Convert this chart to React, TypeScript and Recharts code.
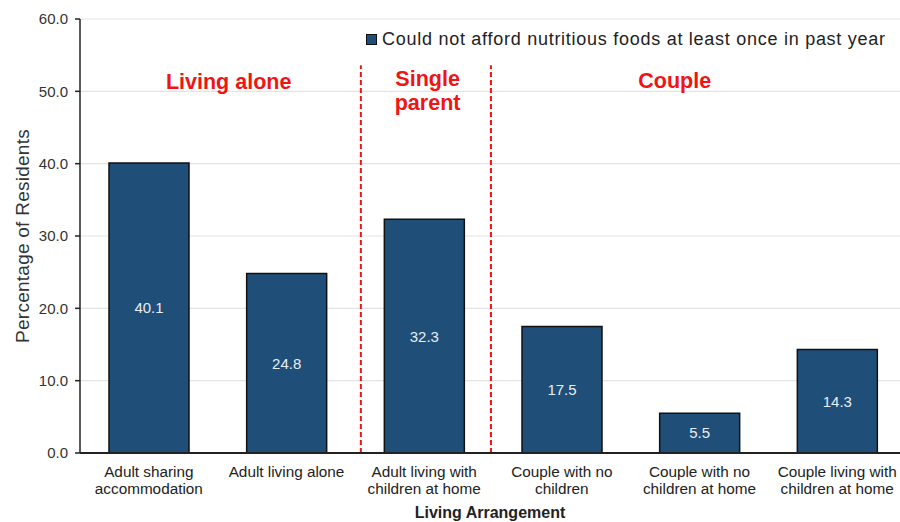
import React from "react";
import {
  BarChart,
  Bar,
  XAxis,
  YAxis,
  CartesianGrid,
  Legend,
  LabelList,
  ReferenceLine,
  ReferenceDot,
  Label,
} from "recharts";

const FONT = "'Liberation Sans', Arial, Helvetica, sans-serif";

const categories = [
  "Adult sharing\naccommodation",
  "Adult living alone",
  "Adult living with\nchildren at home",
  "Couple with no\nchildren",
  "Couple with no\nchildren at home",
  "Couple living with\nchildren at home",
];
const values = [40.1, 24.8, 32.3, 17.5, 5.5, 14.3];
const yTicks = [0, 10, 20, 30, 40, 50, 60];
const seriesName = "Could not afford nutritious foods at least once in past year";

// group dividers (in category units along the axis) and the top of each divider
const dividerX = [2.04, 2.985];
const dividerTop = 53.6;

// group headings: position along categories, baseline value
const groupNames = [["Living alone"], ["Single", "parent"], ["Couple"]];
const groupX = [1.08, 2.525, 4.32];
const groupY = [50.3, 50.8, 50.4];

const data = categories.map((c, i) => ({ name: c, value: values[i], idx: i + 0.5 }));

const CatTick = (props: any) => {
  const { x, y, payload } = props;
  const lines = String(payload.value).split("\n");
  return (
    <text x={x} y={y + 24} textAnchor="middle" fontSize={15.3} fill="#222" fontFamily={FONT}>
      {lines.map((l, i) => (
        <tspan key={i} x={x} dy={i === 0 ? 0 : 17}>
          {l}
        </tspan>
      ))}
    </text>
  );
};

const GroupLabel = (lines: string[]) => (props: any) => {
  const vb = props.viewBox || {};
  const cx = (vb.x || 0) + (vb.width || 0) / 2;
  const cy = (vb.y || 0) + (vb.height || 0) / 2;
  return (
    <text
      x={cx}
      y={cy}
      textAnchor="middle"
      fontSize={21.5}
      fontWeight="bold"
      fill="#f01414"
      fontFamily={FONT}
    >
      {lines.map((l, i) => (
        <tspan key={i} x={cx} dy={i === 0 ? 0 : 24}>
          {l}
        </tspan>
      ))}
    </text>
  );
};

const LegendContent = () => (
  <div
    style={{
      display: "flex",
      alignItems: "center",
      fontFamily: FONT,
      fontSize: 18,
      letterSpacing: 0.73,
      color: "#222",
      whiteSpace: "nowrap",
    }}
  >
    <span
      style={{
        display: "inline-block",
        width: 9,
        height: 9,
        background: "#1F4E79",
        border: "1px solid #111",
        marginRight: 5,
      }}
    />
    {seriesName}
  </div>
);

export default function App() {
  return (
    <div style={{ position: "absolute", left: 0, top: 0, width: 900, height: 522, overflow: "hidden" }}>
      <BarChart
        width={910}
        height={522}
        data={data}
        margin={{ top: 19, right: 4, bottom: 0, left: 0 }}
        style={{ fontFamily: FONT }}
      >
        <CartesianGrid vertical={false} stroke="#e3e3e3" strokeWidth={1.2} />
        <XAxis
          dataKey="name"
          interval={0}
          height={69}
          tick={<CatTick />}
          tickLine={false}
          tickSize={0}
          tickMargin={0}
          axisLine={{ stroke: "#222", strokeWidth: 2 }}
        >
          <Label
            content={(p: any) => {
              const vb = p.viewBox;
              return (
                <text
                  x={vb.x + vb.width / 2 - 3}
                  y={vb.y + 65}
                  textAnchor="middle"
                  fontSize={16}
                  fontWeight="bold"
                  fill="#222"
                  fontFamily={FONT}
                >
                  Living Arrangement
                </text>
              );
            }}
          />
        </XAxis>
        <XAxis xAxisId="num" type="number" dataKey="idx" domain={[0, 6]} hide />
        <YAxis
          width={80}
          domain={[0, 60]}
          ticks={yTicks}
          tickFormatter={(v: number) => v.toFixed(1)}
          tick={{ fontSize: 15, fill: "#333", fontFamily: FONT }}
          tickSize={5}
          tickMargin={7}
          tickLine={{ stroke: "#222", strokeWidth: 1.5 }}
          axisLine={{ stroke: "#222", strokeWidth: 1.5 }}
        >
          <Label
            content={(p: any) => {
              const vb = p.viewBox;
              const cy = vb.y + vb.height / 2;
              return (
                <text
                  transform={`translate(22, ${cy}) rotate(-90)`}
                  textAnchor="middle"
                  dominantBaseline="central"
                  fontSize={19}
                  letterSpacing={0.25}
                  fill="#333"
                  fontFamily={FONT}
                >
                  Percentage of Residents
                </text>
              );
            }}
          />
        </YAxis>
        <Legend
          layout="horizontal"
          verticalAlign="middle"
          align="center"
          content={<LegendContent />}
          wrapperStyle={{ left: 366, top: 29, width: "auto", height: "auto" }}
        />
        <Bar
          dataKey="value"
          name={seriesName}
          fill="#1F4E79"
          stroke="#111"
          strokeWidth={1.5}
          barSize={80}
          isAnimationActive={false}
        >
          <LabelList
            dataKey="value"
            position="center"
            fill="#e8edf3"
            fontSize={15}
            fontFamily={FONT}
            formatter={(v: any) => Number(v).toFixed(1)}
          />
        </Bar>
        {dividerX.map((x, i) => (
          <ReferenceLine
            key={"d" + i}
            xAxisId="num"
            segment={[
              { x, y: 0 },
              { x, y: dividerTop },
            ]}
            stroke="#f01414"
            strokeWidth={2}
            strokeDasharray="5 3"
            ifOverflow="visible"
          />
        ))}
        {groupNames.map((lines, i) => (
          <ReferenceDot
            key={"g" + i}
            xAxisId="num"
            x={groupX[i]}
            y={groupY[i]}
            r={0}
            fill="none"
            stroke="none"
            ifOverflow="visible"
            label={GroupLabel(lines)}
          />
        ))}
      </BarChart>
    </div>
  );
}
